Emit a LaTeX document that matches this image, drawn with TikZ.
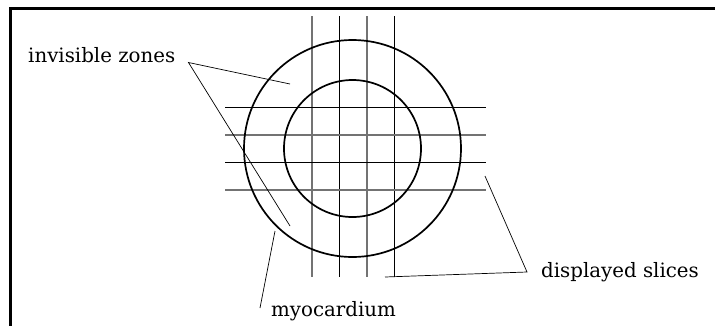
\documentclass[tikz,border=0pt]{standalone}
\usepackage{fontspec}
\setmainfont{DejaVu Serif}
\usetikzlibrary{positioning}

\begin{document}
\begin{tikzpicture}[x=1pt, y=-1pt,
    ring/.style={draw, circle, line width=1.7pt, inner sep=0pt},
    dark/.style={line width=1pt, black},
    pale/.style={line width=1.1pt, black!55},
    lead/.style={line width=0.7pt},
    lbl/.style={font=\fontsize{19.8}{23}\selectfont, inner sep=0pt, anchor=base west},
]
\useasboundingbox (0,0) rectangle (715,325);
% frame (only top and left edges show)
\draw[line width=3pt] (10,330) -- (10,8.5) -- (720,8.5);

% slices
\foreach \x/\s in {312/pale, 339/dark, 367/pale, 394/dark}
    \draw[\s] (\x,16) -- (\x,277);
\foreach \y/\s in {107/dark, 135/pale, 162/dark, 190/pale}
    \draw[\s] (225,\y) -- (486,\y);

% heart wall
\node[ring, minimum size=217pt] (outer) at (352.5,148.5) {};
\node[ring, minimum size=137pt] (inner) at (352.5,148.5) {};

% labels
\node[lbl] (zones) at (28,62) {invisible zones};
\node[lbl] (myo) at (271,316.5) {myocardium};
\node[lbl] (slices) at (541,277) {displayed slices};

\coordinate (zfoot) at (188.5,62.5);
\coordinate (zup) at (290,84);
\coordinate (zdown) at (290,226);
\coordinate (mfoot) at (260,308);
\coordinate (mtip) at (275,231);
\coordinate (sfoot) at (527,272);
\coordinate (sup1) at (485,176);
\coordinate (sbot) at (385,277);

\draw[lead] (zup) -- (zfoot) -- (zdown);
\draw[lead] (mfoot) -- (mtip);
\draw[lead] (sup1) -- (sfoot) -- (sbot);
\end{tikzpicture}
\end{document}
